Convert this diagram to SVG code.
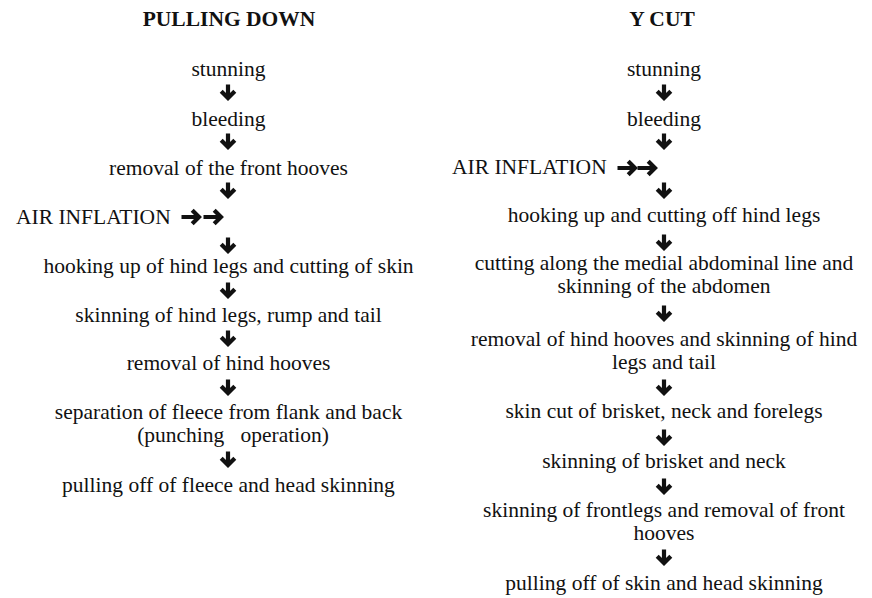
<svg xmlns="http://www.w3.org/2000/svg" xmlns:xlink="http://www.w3.org/1999/xlink" width="872" height="598" viewBox="0 0 872 598">
<style>
text{font-family:"Liberation Serif","Times New Roman",serif;font-size:21.5px;fill:#111}
.c{text-anchor:middle}
.t{font-weight:bold}
.arr{fill:none;stroke:#111;stroke-width:4.2;stroke-linejoin:miter;stroke-linecap:butt}
</style>
<defs>
<g id="down"><path class="arr" d="M0,-7.5V6M-6.8,-0.8L0,6L6.8,-0.8"/></g>
<g id="right"><path class="arr" d="M-9.5,0H8M1.2,-6.8L8,0L1.2,6.8"/></g>
</defs>
<rect width="872" height="598" fill="#fff"/>
<g id="col-left">
<g id="title-left"><text class="c t" x="229" y="26">PULLING DOWN</text></g>
<g id="l1"><text class="c" x="228.5" y="76">stunning</text></g>
<g id="l2"><text class="c" x="228.5" y="126">bleeding</text></g>
<g id="l3"><text class="c" x="228.5" y="175">removal of the front hooves</text></g>
<g id="l4"><text x="16" y="224">AIR INFLATION</text></g>
<g id="l5"><text class="c" x="228.5" y="273">hooking up of hind legs and cutting of skin</text></g>
<g id="l6"><text class="c" x="228.5" y="322">skinning of hind legs, rump and tail</text></g>
<g id="l7"><text class="c" x="228.5" y="370">removal of hind hooves</text></g>
<g id="l8"><text class="c" x="228.5" y="419">separation of fleece from flank and back</text><text class="c" x="233" y="442" xml:space="preserve">(punching   operation)</text></g>
<g id="l9"><text class="c" x="228.5" y="492">pulling off of fleece and head skinning</text></g>
</g>
<g id="col-right">
<g id="title-right"><text class="c t" x="662" y="26">Y CUT</text></g>
<g id="r1"><text class="c" x="664" y="76">stunning</text></g>
<g id="r2"><text class="c" x="664" y="126">bleeding</text></g>
<g id="r3"><text x="452" y="174">AIR INFLATION</text></g>
<g id="r4"><text class="c" x="664" y="222">hooking up and cutting off hind legs</text></g>
<g id="r5"><text class="c" x="664" y="270">cutting along the medial abdominal line and</text><text class="c" x="664" y="293">skinning of the abdomen</text></g>
<g id="r6"><text class="c" x="664" y="346">removal of hind hooves and skinning of hind</text><text class="c" x="664" y="369">legs and tail</text></g>
<g id="r7"><text class="c" x="664" y="418">skin cut of brisket, neck and forelegs</text></g>
<g id="r8"><text class="c" x="664" y="468">skinning of brisket and neck</text></g>
<g id="r9"><text class="c" x="664" y="517">skinning of frontlegs and removal of front</text><text class="c" x="664" y="540">hooves</text></g>
<g id="r10"><text class="c" x="664" y="590">pulling off of skin and head skinning</text></g>
</g>
<g id="connectors">
<use xlink:href="#down" x="228" y="92"/>
<use xlink:href="#down" x="228" y="141"/>
<use xlink:href="#down" x="228" y="190"/>
<use xlink:href="#right" x="191" y="217"/>
<use xlink:href="#right" x="213" y="217"/>
<use xlink:href="#down" x="228" y="245"/>
<use xlink:href="#down" x="228" y="290"/>
<use xlink:href="#down" x="228" y="338"/>
<use xlink:href="#down" x="228" y="387"/>
<use xlink:href="#down" x="228" y="459"/>
<use xlink:href="#down" x="664" y="92"/>
<use xlink:href="#down" x="664" y="141"/>
<use xlink:href="#right" x="627" y="168"/>
<use xlink:href="#right" x="647" y="168"/>
<use xlink:href="#down" x="664" y="190"/>
<use xlink:href="#down" x="664" y="242"/>
<use xlink:href="#down" x="664" y="313"/>
<use xlink:href="#down" x="664" y="387"/>
<use xlink:href="#down" x="664" y="437"/>
<use xlink:href="#down" x="664" y="486"/>
<use xlink:href="#down" x="664" y="557"/>
</g>
</svg>
